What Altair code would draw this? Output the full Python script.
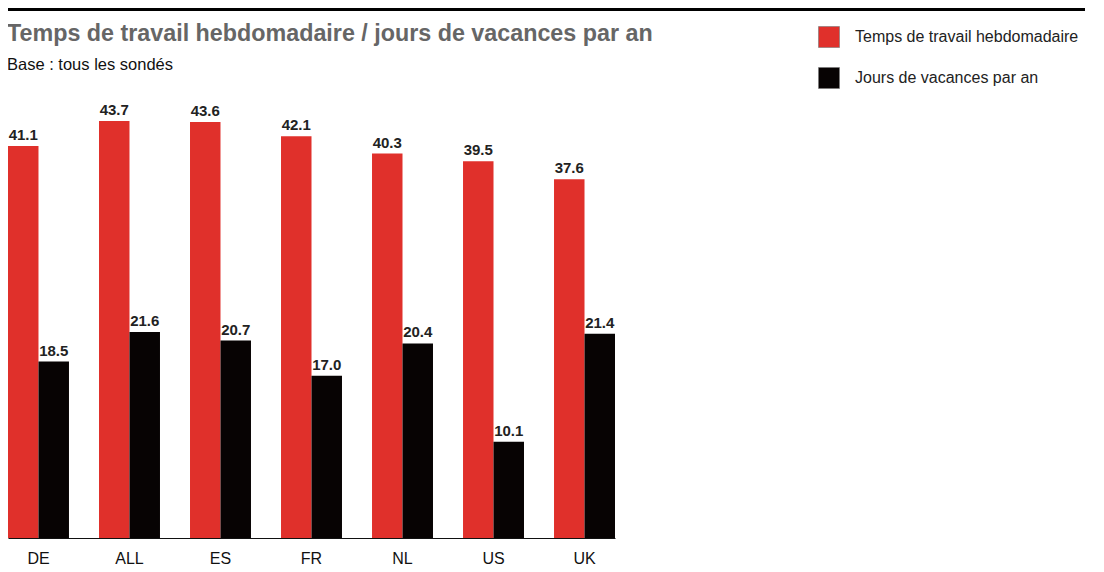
import altair as alt
import pandas as pd

countries = ["DE", "ALL", "ES", "FR", "NL", "US", "UK"]
series_names = ["Temps de travail hebdomadaire", "Jours de vacances par an"]
work_hours = [41.1, 43.7, 43.6, 42.1, 40.3, 39.5, 37.6]
holidays = [18.5, 21.6, 20.7, 17.0, 20.4, 10.1, 21.4]
colors = ["#E0302B", "#070303"]

title_text = "Temps de travail hebdomadaire / jours de vacances par an"
subtitle_text = "Base : tous les sondés"

rows = []
for c, w, h in zip(countries, work_hours, holidays):
    rows.append({"pays": c, "serie": series_names[0], "valeur": w})
    rows.append({"pays": c, "serie": series_names[1], "valeur": h})
df = pd.DataFrame(rows)

FONT = "Liberation Sans"

x_enc = alt.X("pays:N", sort=countries,
              scale=alt.Scale(paddingInner=0.33, paddingOuter=0),
              axis=alt.Axis(title=None, ticks=False, labelAngle=0,
                            labelFontSize=16, labelFont=FONT, labelColor="#111",
                            labelPadding=12, domainColor="#111", domainWidth=1.2))
xo_enc = alt.XOffset("serie:N", sort=series_names)
y_enc = alt.Y("valeur:Q", scale=alt.Scale(domain=[0, 50]), axis=None)

bars = alt.Chart(df).mark_bar().encode(
    x=x_enc,
    xOffset=xo_enc,
    y=y_enc,
    color=alt.Color("serie:N", sort=series_names,
                    scale=alt.Scale(domain=series_names, range=colors),
                    legend=alt.Legend(title=None, orient="none", legendX=810, legendY=-35,
                                      symbolType="square", symbolSize=441,
                                      symbolStrokeColor="#777", symbolStrokeWidth=0.6,
                                      labelFont=FONT, labelFontSize=16, labelColor="#222",
                                      labelOffset=15, labelLimit=0, rowPadding=17, padding=0)),
)

labels = alt.Chart(df).mark_text(baseline="alphabetic", dy=-6, font=FONT,
                                 fontSize=15, fontWeight="bold", color="#222").encode(
    x=x_enc,
    xOffset=xo_enc,
    y=y_enc,
    text=alt.Text("valeur:Q", format=".1f"),
)

one = pd.DataFrame({"t": [title_text], "s": [subtitle_text]})

top_rule = alt.Chart(one).mark_rule(color="#000", strokeWidth=3).encode(
    x=alt.value(0), x2=alt.value(1077), y=alt.value(-51.5)
)
title = alt.Chart(one).mark_text(align="left", baseline="alphabetic", font=FONT,
                                 fontSize=23.3, fontWeight="bold", color="#666").encode(
    x=alt.value(-1), y=alt.value(-20), text="t:N"
)
subtitle = alt.Chart(one).mark_text(align="left", baseline="alphabetic", font=FONT,
                                    fontSize=16.5, color="#111").encode(
    x=alt.value(-1), y=alt.value(9), text="s:N"
)

chart = alt.layer(bars, labels, top_rule, title, subtitle).properties(
    width=607, height=477,
    autosize=alt.AutoSizeParams(type="none"),
    padding={"left": 0, "top": 53, "right": 481, "bottom": 31},
).configure_view(stroke=None)

chart.save("out.html", embed_options={"renderer": "svg", "actions": False})
